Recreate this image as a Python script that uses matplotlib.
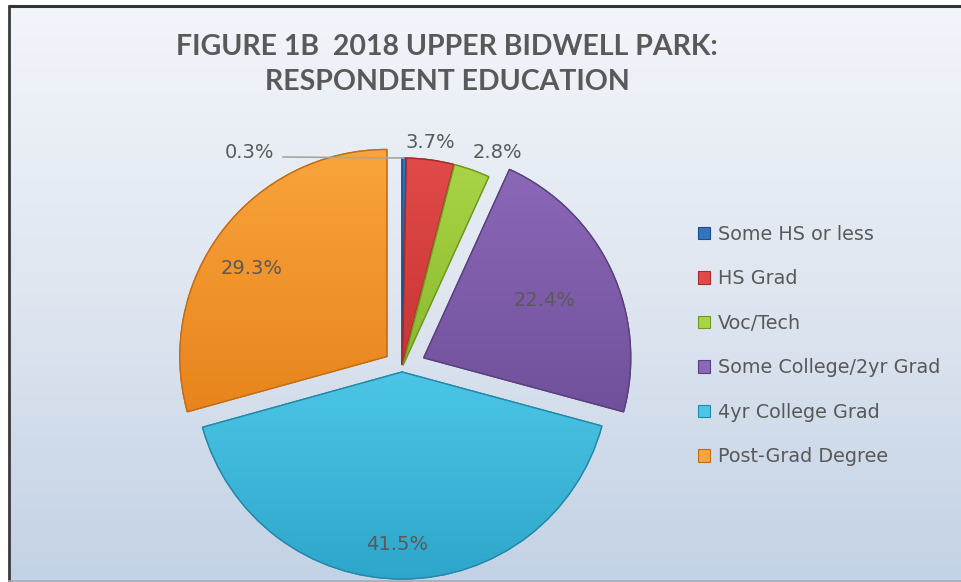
import numpy as np
import matplotlib.pyplot as plt
from matplotlib.colors import LinearSegmentedColormap
from matplotlib.patches import Rectangle, Wedge

# Education breakdown of survey respondents (percent)
categories = ["Some HS or less", "HS Grad", "Voc/Tech",
              "Some College/2yr Grad", "4yr College Grad", "Post-Grad Degree"]
shares = [0.3, 3.7, 2.8, 22.4, 41.5, 29.3]
top_colors = ["#3475c0", "#e04a48", "#a9d447", "#8b68b8", "#4cc6e6", "#f9a43c"]
bottom_colors = ["#245ea3", "#c93534", "#8bb92d", "#70509b", "#2ea6cb", "#e8841c"]
edge_colors = ["#1d4d86", "#a82a2a", "#6f9a22", "#59407d", "#2289a8", "#c46c12"]

W, H = 961, 582
fig = plt.figure(figsize=(W / 100, H / 100), dpi=100)
fig.patch.set_facecolor("white")

# background panel with a soft vertical gradient and a dark frame
bg = fig.add_axes([0, 0, 1, 1])
bg.set_xlim(0, W)
bg.set_ylim(H, 0)
bg.axis("off")
grad = np.linspace(0, 1, 256).reshape(-1, 1)
bg_cmap = LinearSegmentedColormap.from_list("bg", ["#f2f5fa", "#dfe6f0", "#c3d2e5"])
bg.imshow(grad, aspect="auto", cmap=bg_cmap, extent=(9, W, H - 2, 6), zorder=0)
bg.plot([8, W], [5.5, 5.5], color="#333333", lw=2.2, solid_capstyle="butt")
bg.plot([8.5, 8.5], [5, H], color="#3a3a3a", lw=2.0, solid_capstyle="butt")
bg.plot([9, W], [H - 1.5, H - 1.5], color="#9aa3ad", lw=1.2)

# pie drawn in pixel units (1 data unit = 1 px, y up)
ax = fig.add_axes([0, 0, 1, 1])
ax.patch.set_alpha(0)
cx, cy, R = 402, H - 368, 207
explode = [3, 3, 3, 24, 4, 19]
wedges, _ = ax.pie(shares, explode=explode, center=(cx, cy), radius=R,
                   startangle=90, counterclock=False,
                   colors=top_colors, wedgeprops=dict(linewidth=1.0))
ax.set_xlim(0, W)
ax.set_ylim(0, H)
ax.set_aspect("auto")
ax.axis("off")

# vertical shading inside each slice, then a crisp outline
for w, c0, c1, ec in zip(wedges, top_colors, bottom_colors, edge_colors):
    w.set_edgecolor(ec)
    cmap = LinearSegmentedColormap.from_list("w", [c1, c0])
    bb = w.get_path().get_extents(w.get_transform())
    img = ax.imshow(grad, cmap=cmap, aspect="auto", origin="lower",
                    extent=(bb.x0, bb.x1, bb.y0, bb.y1), zorder=w.get_zorder() + 0.1)
    img.set_clip_path(w)
    ax.add_patch(Wedge(w.center, w.r, w.theta1, w.theta2, facecolor="none",
                       edgecolor=ec, lw=1.0, zorder=w.get_zorder() + 0.2))

# value labels (pixel positions, y measured from top)
label_pos = [(250, 152), (430, 143), (497, 152), (545, 300), (397, 545), (252, 268)]
for v, (lx, ly) in zip(shares, label_pos):
    ax.text(lx, H - ly, f"{v:.1f}%", fontsize=14, color="#595959",
            ha="center", va="center", zorder=10)

# leader line for the thin first slice
w0 = wedges[0]
mid = np.deg2rad((w0.theta1 + w0.theta2) / 2)
tip = (w0.center[0] + w0.r * np.cos(mid), w0.center[1] + w0.r * np.sin(mid))
ax.plot([283, tip[0]], [H - 157, tip[1]], color="#a6a6a6", lw=1.2, zorder=9)

# title
for txt, ty in [("FIGURE 1B  2018 UPPER BIDWELL PARK:", 47), ("RESPONDENT EDUCATION", 82)]:
    fig.text(447 / W, 1 - ty / H, txt, family=["Lato", "DejaVu Sans"],
             fontweight="bold", fontsize=20.5, color="#595959",
             ha="center", va="center")

# legend
handles = [Rectangle((0, 0), 1, 1, facecolor=c, edgecolor=e, lw=0.8)
           for c, e in zip(top_colors, edge_colors)]
leg = ax.legend(handles, categories, loc="upper left",
                bbox_to_anchor=(690 / W, 1 - 217 / H),
                frameon=False, fontsize=13.8, handlelength=0.65, handleheight=0.65,
                handletextpad=0.4, labelspacing=1.33, borderaxespad=0)
for t in leg.get_texts():
    t.set_color("#595959")

fig.savefig("out.png", dpi=100)
